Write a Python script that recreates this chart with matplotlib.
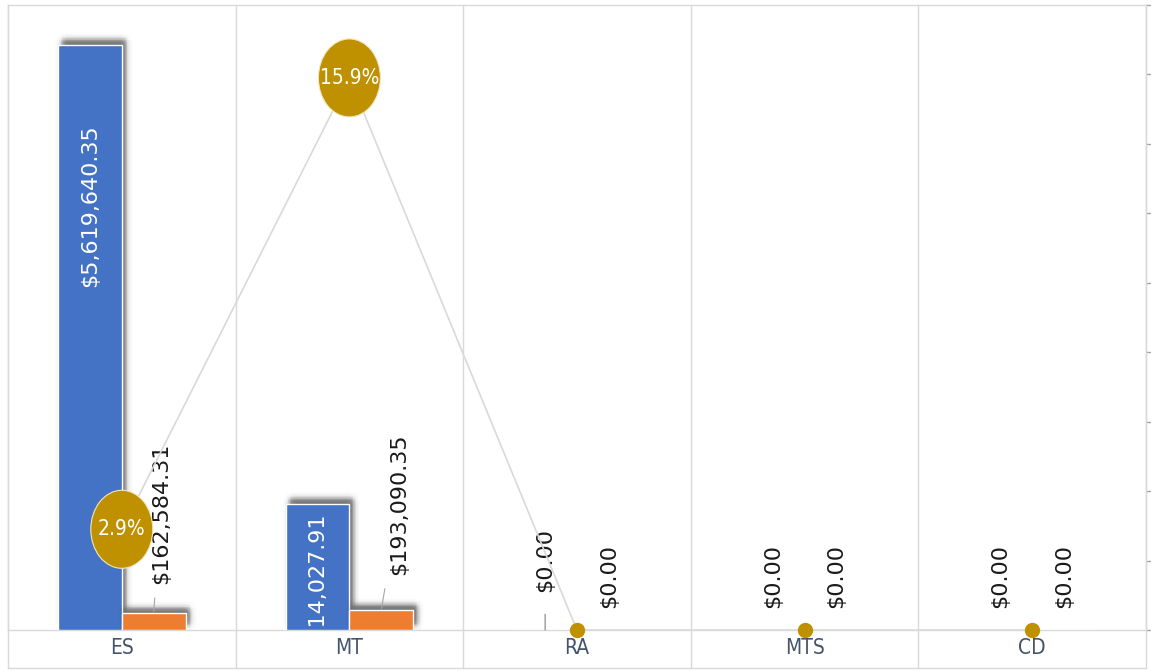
import matplotlib
matplotlib.use('Agg')
import matplotlib.pyplot as plt
import matplotlib.patheffects as pe
import matplotlib.transforms as mtransforms
from matplotlib.patches import Ellipse
from matplotlib.lines import Line2D
import numpy as np

# ---------------- data ----------------
categories = ['ES', 'MT', 'RA', 'MTS', 'CD']
series_blue = [5619640.35, 1214027.91, 0.0, 0.0, 0.0]
series_orange = [162584.31, 193090.35, 0.0, 0.0, 0.0]
series_pct = [2.9, 15.9, 0.0, 0.0, 0.0]
blue_labels = ['$5,619,640.35', '$1,214,027.91', '$0.00', '$0.00', '$0.00']
orange_labels = ['$162,584.31', '$193,090.35', '$0.00', '$0.00', '$0.00']
pct_labels = ['2.9%', '15.9%', '', '', '']

# ---------------- style ----------------
BLUE = '#4472C4'
ORANGE = '#ED7D31'
GOLD = '#BF9000'
GRID = '#D9D9D9'
CAT_COLOR = '#44546A'
TXT = '#1A1A1A'
LABEL_SIZE = 16

# label placement (pixels)
blue_label_dy = [-80, -9, 38, 22, 22]
blue_leader = [False, False, True, False, False]
orange_label_dx = [7, 18, 0, 0, 0]
orange_label_dy = [29, 35, 22, 22, 22]
orange_leader = [True, True, False, False, False]

W, H, DPI = 1151, 671, 100
PT = 72.0 / DPI
fig = plt.figure(figsize=(W / DPI, H / DPI), dpi=DPI)
fig.patch.set_facecolor('white')
L, R, T, B, BOT = 8, 1146, 5, 630, 668
ax = fig.add_axes([L / W, 1 - B / H, (R - L) / W, (B - T) / H])
ax2 = ax.twinx()

x = np.arange(len(categories))
bw = 0.28

# soft blurred drop shadow (offset up-right)
shadow = []
for r, a in [(7, 0.007), (5, 0.011), (3, 0.016), (1.5, 0.022)]:
    for th in np.linspace(0, 2 * np.pi, 12, endpoint=False):
        shadow.append(pe.SimplePatchShadow(offset=((4 + r * np.cos(th)) * PT, (5 + r * np.sin(th)) * PT),
                                           shadow_rgbFace='black', alpha=a))
shadow.append(pe.Normal())

bars_b = ax.bar(x - bw / 2, series_blue, width=bw, color=BLUE, edgecolor='white', linewidth=1, zorder=3)
bars_o = ax.bar(x + bw / 2, series_orange, width=bw, color=ORANGE, edgecolor='white', linewidth=1, zorder=3)
for bar, v in list(zip(bars_b, series_blue)) + list(zip(bars_o, series_orange)):
    if v > 0:
        bar.set_path_effects(shadow)

ax.set_xlim(-0.5, len(categories) - 0.5)
ax.set_ylim(0, 6e6)
ax.set_yticks([])
ax.set_xticks(x)
ax.set_xticklabels(categories, fontsize=15, color=CAT_COLOR, fontstretch='condensed')
ax.tick_params(axis='x', length=0, pad=6)
for s in ax.spines.values():
    s.set_color(GRID)
    s.set_linewidth(1)

# blue labels
for i, (v, lab) in enumerate(zip(series_blue, blue_labels)):
    xi = x[i] - bw / 2
    if v > 0:
        ax.annotate(lab, xy=(xi, v), xytext=(0, blue_label_dy[i] * PT), textcoords='offset points',
                    rotation=90, ha='center', va='top', color='white', fontsize=LABEL_SIZE,
                    annotation_clip=False, clip_on=True, zorder=5)
    else:
        kw = {}
        if blue_leader[i]:
            kw['arrowprops'] = dict(arrowstyle='-', color='#7F7F7F', lw=0.8, shrinkA=14, shrinkB=0)
        ax.annotate(lab, xy=(xi, v), xytext=(0, blue_label_dy[i] * PT), textcoords='offset points',
                    rotation=90, ha='center', va='bottom', color=TXT, fontsize=LABEL_SIZE, zorder=5, **kw)

# orange labels
for i, (v, lab) in enumerate(zip(series_orange, orange_labels)):
    xi = x[i] + bw / 2
    kw = {}
    if orange_leader[i]:
        kw['arrowprops'] = dict(arrowstyle='-', color='#A6A6A6', lw=0.8, shrinkA=8, shrinkB=1)
    ax.annotate(lab, xy=(xi, v), xytext=(orange_label_dx[i] * PT, orange_label_dy[i] * PT),
                textcoords='offset points', rotation=90, ha='center', va='bottom',
                color=TXT, fontsize=LABEL_SIZE, zorder=5, **kw)

# percentage line on secondary axis
ax2.plot(x, series_pct, color=GRID, lw=1.2, marker='o', ms=10,
         mfc=GOLD, mec=GOLD, zorder=4, clip_on=False)
for i, (v, lab) in enumerate(zip(series_pct, pct_labels)):
    if lab:
        trans = fig.dpi_scale_trans + mtransforms.ScaledTranslation(x[i], v, ax2.transData)
        e = Ellipse((0, 0), 0.62, 0.78, transform=trans, facecolor=GOLD,
                    edgecolor='#F2E6C2', lw=0.8, zorder=6, clip_on=False)
        ax2.add_artist(e)
        ax2.text(x[i], v, lab, ha='center', va='center', color='white', fontsize=15,
                 fontstretch='condensed', zorder=7)
ax2.set_ylim(0, 18)
ax2.set_yticks(np.arange(0, 19, 2))
ax2.tick_params(axis='y', length=4, color='#A6A6A6', labelright=False, width=1)
for s in ax2.spines.values():
    s.set_visible(False)

# category separators and bottom frame
blend = mtransforms.blended_transform_factory(ax.transData, fig.transFigure)
for b in np.arange(-0.5, len(categories), 1.0):
    fig.add_artist(Line2D([b, b], [1 - BOT / H, 1 - T / H], transform=blend, color=GRID, lw=1, zorder=1))
fig.add_artist(Line2D([L / W, R / W], [1 - BOT / H, 1 - BOT / H], transform=fig.transFigure, color=GRID, lw=1))

fig.savefig('out.png', dpi=DPI)
